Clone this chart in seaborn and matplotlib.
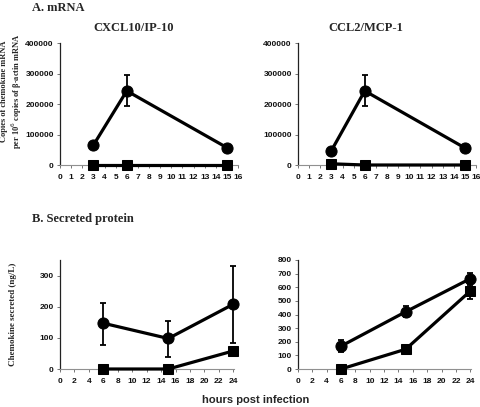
import numpy as np
import pandas as pd
import matplotlib
matplotlib.use("Agg")
import matplotlib.pyplot as plt
import seaborn as sns

# ---- data ----
a_hours = [3, 6, 15]
a_cxcl10_circle = [65000, 243000, 57000]
a_cxcl10_circle_err = [0, 51000, 0]
a_cxcl10_square = [0, 0, 0]
a_ccl2_circle = [47000, 243000, 56000]
a_ccl2_circle_err = [0, 51000, 0]
a_ccl2_square = [4000, 0, 0]

b_hours = [6, 15, 24]
b_left_circle = [147, 98, 208]
b_left_circle_lo = [78, 39, 84]
b_left_circle_hi = [212, 155, 330]
b_left_square = [0, 0, 58]
b_right_circle = [168, 420, 663]
b_right_circle_err = [45, 42, 45]
b_right_square = [0, 145, 572]
b_right_square_err = [0, 32, 55]

a_xticks = list(range(0, 17))
a_yticks = [0, 100000, 200000, 300000, 400000]
b_xticks = list(range(0, 25, 2))
b_left_yticks = [0, 100, 200, 300]
b_right_yticks = [0, 100, 200, 300, 400, 500, 600, 700, 800]

sns.set_theme(style="white")
plt.rcParams['font.family'] = ['Liberation Sans', 'DejaVu Sans']

W, H = 480, 407
fig = plt.figure(figsize=(W / 100, H / 100), dpi=100)

def axes_px(x0, x1, ytop, ybot):
    return fig.add_axes([x0 / W, 1 - ybot / H, (x1 - x0) / W, (ybot - ytop) / H])

def style(ax, xticks, yticks, xlim, ylim):
    ax.set_xlim(*xlim)
    ax.set_ylim(*ylim)
    ax.set_xticks(xticks)
    ax.set_yticks(yticks)
    for s in ["top", "right"]:
        ax.spines[s].set_visible(False)
    ax.spines["left"].set_color("#222222")
    ax.spines["left"].set_linewidth(0.9)
    ax.spines["bottom"].set_color("#909090")
    ax.spines["bottom"].set_linewidth(0.8)
    ax.tick_params(axis="both", which="both", direction="out", length=2.5,
                   width=0.6, color="#606060", labelsize=6,
                   bottom=True, left=True, labelcolor="#111111")
    ax.tick_params(axis="x", pad=4)
    ax.tick_params(axis="y", pad=2)
    for lbl in ax.get_xticklabels() + ax.get_yticklabels():
        lbl.set_fontweight("bold")
        lbl.set_family("Liberation Sans")
    ax.set_xlabel("")
    ax.set_ylabel("")
    ax.grid(False)
    ax.patch.set_alpha(0)

def draw(ax, x, y, marker, ms, yerr=None):
    df = pd.DataFrame({"x": x, "y": y})
    sns.lineplot(data=df, x="x", y="y", ax=ax, color="black", lw=2.3,
                 marker=marker, markersize=ms, markeredgecolor="black",
                 markerfacecolor="black", clip_on=False, zorder=3)
    if yerr is not None:
        ax.errorbar(x, y, yerr=yerr, fmt="none", ecolor="black", elinewidth=1.3,
                    capsize=2.5, capthick=1.3, clip_on=False, zorder=4)

# A left
ax1 = axes_px(60, 238, 43, 165)
draw(ax1, a_hours, a_cxcl10_circle, "o", 8, a_cxcl10_circle_err)
draw(ax1, a_hours, a_cxcl10_square, "s", 7.5)
style(ax1, a_xticks, a_yticks, (0, 16), (0, 400000))

# A right
ax2 = axes_px(298, 476, 43, 165)
draw(ax2, a_hours, a_ccl2_circle, "o", 8, a_ccl2_circle_err)
draw(ax2, a_hours, a_ccl2_square, "s", 7.5)
style(ax2, a_xticks, a_yticks, (0, 16), (0, 400000))

# B left
ax3 = axes_px(60, 234, 260, 369)
b_left_err = [np.array(b_left_circle) - np.array(b_left_circle_lo),
              np.array(b_left_circle_hi) - np.array(b_left_circle)]
draw(ax3, b_hours, b_left_circle, "o", 8, b_left_err)
draw(ax3, b_hours, b_left_square, "s", 7.5)
style(ax3, b_xticks, b_left_yticks, (0, 24.1), (0, 350))

# B right
ax4 = axes_px(298, 471, 260, 369)
draw(ax4, b_hours, b_right_circle, "o", 8, b_right_circle_err)
draw(ax4, b_hours, b_right_square, "s", 7.5, b_right_square_err)
style(ax4, b_xticks, b_right_yticks, (0, 24.1), (0, 800))

serif = ["Liberation Serif", "DejaVu Serif"]
fig.text(32 / W, 1 - 8 / H, "A. mRNA", family=serif, fontweight="bold",
         fontsize=9, ha="left", va="center")
fig.text(134 / W, 1 - 28 / H, "CXCL10/IP-10", family=serif, fontweight="bold",
         fontsize=9, ha="center", va="center")
fig.text(366 / W, 1 - 28 / H, "CCL2/MCP-1", family=serif, fontweight="bold",
         fontsize=9, ha="center", va="center")
fig.text(32 / W, 1 - 219 / H, "B. Secreted protein", family=serif,
         fontweight="bold", fontsize=9, ha="left", va="center")
fig.text(12 / W, 1 - 91 / H,
         "Copies of chemokine mRNA\nper 10$^6$ copies of β-actin mRNA",
         family=serif, fontweight="bold", fontsize=6.0, ha="center",
         va="center", rotation=90, linespacing=1.15)
fig.text(13 / W, 1 - 314 / H, "Chemokine secreted (ng/L)", family=serif,
         fontweight="bold", fontsize=6.5, ha="center", va="center",
         rotation=90)
fig.text(256 / W, 1 - 400 / H, "hours post infection",
         family=["Liberation Sans", "DejaVu Sans"], fontweight="bold",
         fontsize=8, ha="center", va="center")

fig.savefig("out.png", dpi=100)
